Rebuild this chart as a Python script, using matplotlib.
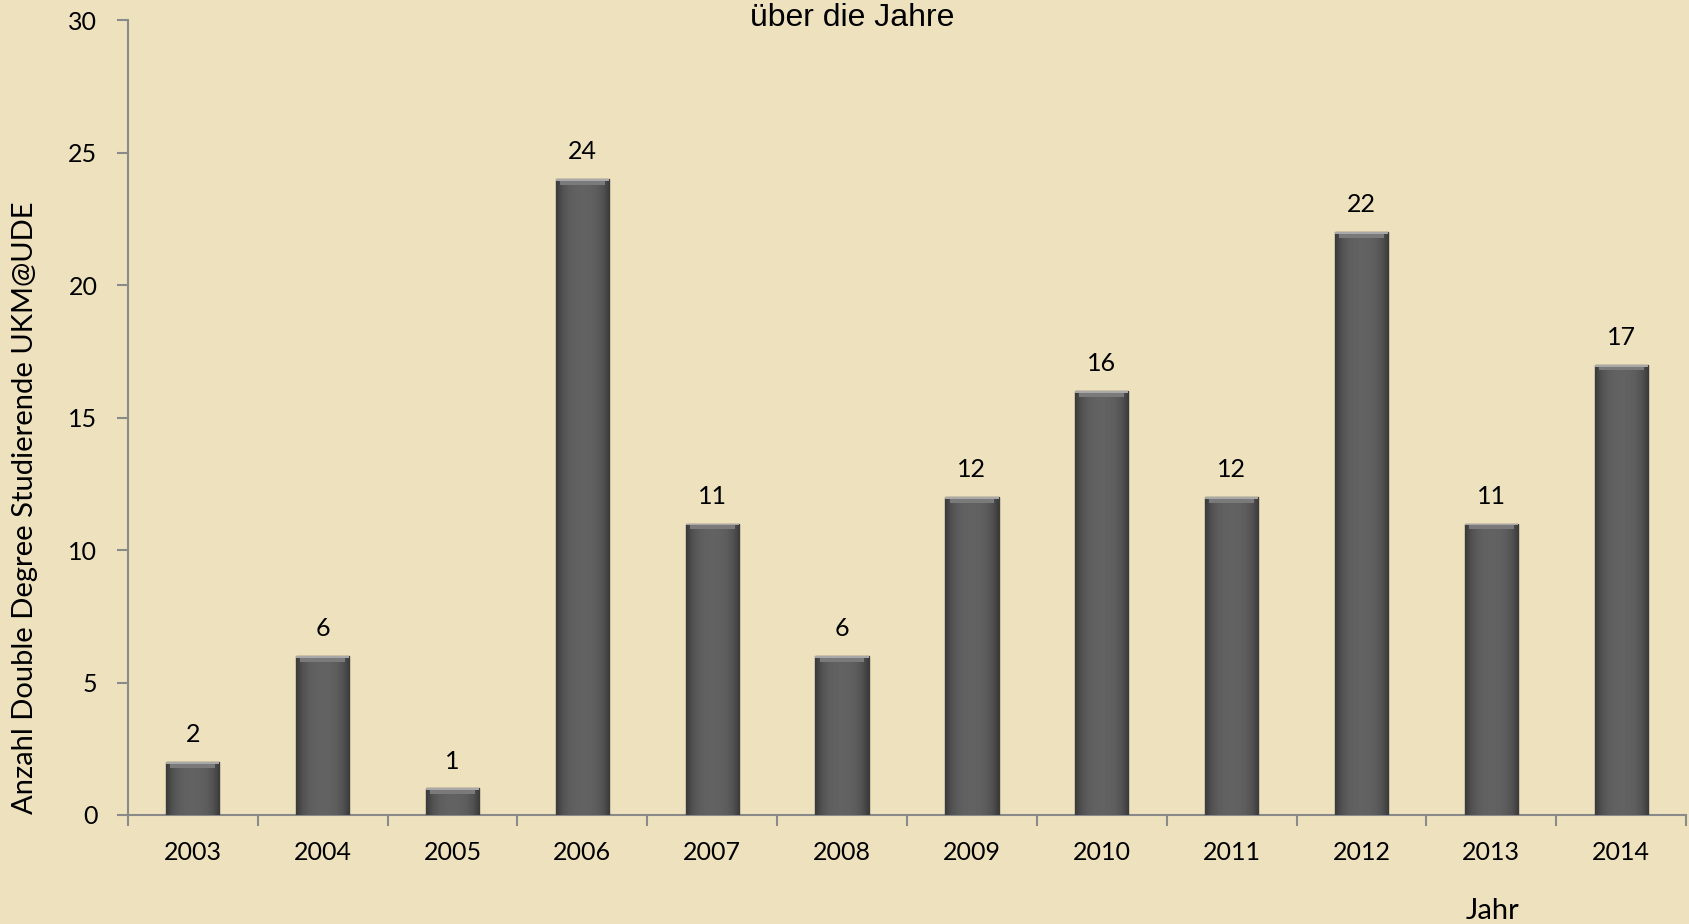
import numpy as np
import matplotlib.pyplot as plt

years = ["2003", "2004", "2005", "2006", "2007", "2008",
         "2009", "2010", "2011", "2012", "2013", "2014"]
counts = [2, 6, 1, 24, 11, 6, 12, 16, 12, 22, 11, 17]

bg = "#eee2be"
axis_col = "#8a8a8a"

fig = plt.figure(figsize=(16.9, 9.24), dpi=100, facecolor=bg)
ax = fig.add_axes([0.0757, 0.118, 0.922, 0.860])
ax.set_facecolor(bg)

x = np.arange(len(years))
bw = 0.41
bars = ax.bar(x, counts, width=bw, color="#5b5b5b", edgecolor="#3c3c3c",
              linewidth=1.0, zorder=3)

# horizontal shading inside each bar: darker edges, lighter middle
grad = np.array([0.0, 0.55, 0.8, 0.9, 0.92, 0.9, 0.8, 0.55, 0.0])
grad = np.interp(np.linspace(0, 8, 200), np.arange(9), grad)
cmap = plt.matplotlib.colors.LinearSegmentedColormap.from_list(
    "bar", ["#3a3a3a", "#666666"])
for b in bars:
    x0, h = b.get_x(), b.get_height()
    im = ax.imshow(grad[None, :], extent=[x0, x0 + bw, 0, h], aspect="auto",
                   cmap=cmap, vmin=0, vmax=1, zorder=4, interpolation="bilinear")
    im.set_clip_path(b)
    # bevelled top highlight
    ax.bar(x0 + bw / 2, 0.22, bottom=h - 0.22, width=bw * 0.84,
           color="#7a7a7a", linewidth=0, zorder=5)
    ax.bar(x0 + bw / 2, 0.07, bottom=h - 0.07, width=bw,
           color="#a8a8a8", linewidth=0, zorder=5)

for xi, v in zip(x, counts):
    ax.text(xi, v + 0.6, str(v), ha="center", va="bottom",
            fontsize=18, family="Lato", color="black", zorder=6)

ax.set_xlim(-0.5, len(years) - 0.5)
ax.set_ylim(0, 30)
ax.set_yticks(range(0, 31, 5))
ax.set_xticks(x)
ax.set_xticklabels(years)
ax.set_xticks(np.arange(-0.5, len(years)), minor=True)
ax.tick_params(axis="x", which="major", length=0, pad=19, labelsize=18)
ax.tick_params(axis="x", which="minor", length=8, width=1.5, color=axis_col)
ax.tick_params(axis="y", length=8, width=1.5, color=axis_col, pad=14,
               labelsize=18)
for lab in ax.get_xticklabels() + ax.get_yticklabels():
    lab.set_family("Lato")

for s in ["top", "right"]:
    ax.spines[s].set_visible(False)
for s in ["left", "bottom"]:
    ax.spines[s].set_color(axis_col)
    ax.spines[s].set_linewidth(1.5)

fig.text(0.0148, 0.451, "Anzahl Double Degree Studierende UKM@UDE",
         rotation=90, ha="center", va="center", fontsize=21, family="Lato")
fig.text(0.883, 0.0055, "Jahr", ha="center", va="baseline",
         fontsize=21, family="Lato")
fig.text(0.504, 0.9719, "über die Jahre", ha="center", va="baseline",
         fontsize=23, family="Liberation Sans")

fig.savefig("out.png", dpi=100, facecolor=bg)
